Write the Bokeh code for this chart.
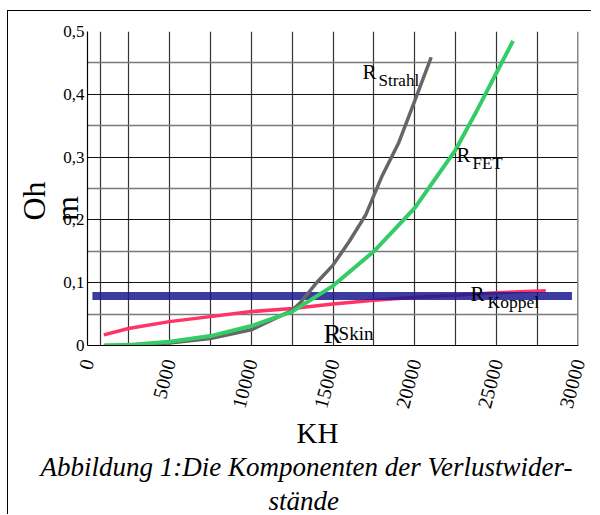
from bokeh.plotting import figure
from bokeh.models import Range1d, FixedTicker, CustomJSTickFormatter, Label, Span, Title, InlineStyleSheet
from bokeh.embed import file_html
from bokeh.resources import INLINE

# ---- data ----
freq_fet = [1000, 2500, 5000, 7500, 10000, 12500, 15000, 17500, 20000, 22500, 23750, 25000, 26000]
r_fet = [0.0, 0.001, 0.006, 0.015, 0.031, 0.054, 0.095, 0.150, 0.219, 0.312, 0.372, 0.435, 0.485]

freq_strahl = [1000, 2500, 5000, 7500, 10000, 12500, 13000, 14000, 15000, 16000, 17000, 18000, 19000, 20000, 21000]
r_strahl = [0.0, 0.0005, 0.004, 0.011, 0.025, 0.056, 0.068, 0.100, 0.128, 0.166, 0.208, 0.270, 0.322, 0.390, 0.459]

freq_skin = [1000, 2500, 5000, 7500, 10000, 12500, 15000, 17500, 20000, 22500, 25000, 28000]
r_skin = [0.017, 0.027, 0.038, 0.046, 0.054, 0.059, 0.066, 0.072, 0.077, 0.080, 0.084, 0.087]

freq_koppel = [300, 29600]
r_koppel = [0.079, 0.079]

x_ticks = [0, 5000, 10000, 15000, 20000, 25000, 30000]
x_grid = [800, 2500, 5000, 7500, 10000, 12500, 15000, 17500, 20000, 22500, 25000, 27500]
y_ticks = [0, 0.1, 0.2, 0.3, 0.4, 0.5]
y_minor = [0.05, 0.15, 0.25, 0.35, 0.45]

SERIF = "Liberation Serif"
NBSP = "\u00a0"

p = figure(width=584, height=504, output_backend="svg", toolbar_location=None,
           x_range=Range1d(0, 30000), y_range=Range1d(0, 0.5),
           min_border_left=79, min_border_right=14, min_border_top=20, min_border_bottom=168)
# thin frame lines (top and left) of the original figure box
p.stylesheets = [InlineStyleSheet(css=":host { margin-left: 7px; margin-top: 10px; "
                                      "border-top: 1px solid black; border-left: 1px solid black; } "
                                      ".bk-Toolbar, .bk-toolbar { display: none !important; }")]
p.outline_line_color = None
p.background_fill_color = "white"
p.border_fill_color = "white"

# axes
for ax in (p.xaxis[0], p.yaxis[0]):
    ax.major_tick_in = 0
    ax.major_tick_out = 0
    ax.minor_tick_in = 0
    ax.minor_tick_out = 0
    ax.axis_line_color = "black"
    ax.axis_line_width = 1.2
    ax.major_label_text_font = SERIF
    ax.major_label_text_color = "black"

p.xaxis.ticker = FixedTicker(ticks=x_ticks)
p.xaxis.major_label_orientation = 1.31
p.xaxis.major_label_text_font_size = "20px"
p.xaxis.major_label_standoff = 14

p.yaxis.ticker = FixedTicker(ticks=y_ticks)
p.yaxis.formatter = CustomJSTickFormatter(code='return tick == 0 ? "0" : tick.toFixed(1).replace(".", ",");')
p.yaxis.major_label_text_font_size = "17px"
p.yaxis.major_label_standoff = 3
# the broken "Ohm" title: "m" sits over the tick labels, "Oh" further out
p.yaxis.axis_label = "m" + NBSP * 5
p.yaxis.axis_label_text_font = SERIF
p.yaxis.axis_label_text_font_size = "32px"
p.yaxis.axis_label_text_font_style = "normal"
p.yaxis.axis_label_text_color = "black"
p.yaxis.axis_label_standoff = -25

p.add_layout(Title(text="Oh", align="left", offset=125, standoff=-10, text_font=SERIF,
                   text_font_size="32px", text_font_style="normal", text_color="black"), "left")

# grid
p.xgrid.ticker = FixedTicker(ticks=x_grid)
p.xgrid.grid_line_color = "#333333"
p.xgrid.grid_line_width = 1.2
p.ygrid.ticker = FixedTicker(ticks=y_ticks, minor_ticks=y_minor)
p.ygrid.grid_line_color = "#111111"
p.ygrid.grid_line_width = 1.2
p.ygrid.minor_grid_line_color = "#7a7a7a"
p.ygrid.minor_grid_line_width = 1.5
p.add_layout(Span(location=30000, dimension="height", line_color="#888888", line_width=3))

# curves
p.line(freq_skin, r_skin, line_color="#ff3366", line_width=3.5, line_join="round")
p.line(freq_koppel, r_koppel, line_color="#1a1a8f", line_width=8, line_alpha=0.85, line_cap="butt")
p.line(freq_strahl, r_strahl, line_color="#666666", line_width=3.5, line_join="round")
p.line(freq_fet, r_fet, line_color="#33cc66", line_width=4, line_join="round")

# curve labels (R + subscript)
curve_labels = [
    ("R", 16800, 0.435, "21px"), ("Strahl", 17780, 0.4225, "17px"),
    ("R", 22550, 0.304, "21px"), ("FET", 23520, 0.2896, "17px"),
    ("R", 23400, 0.0823, "21px"), ("Koppel", 24440, 0.0696, "17.5px"),
    ("R", 14420, 0.019, "27px"), ("Skin", 15340, 0.019, "19px"),
]
for txt, x, y, fs in curve_labels:
    p.add_layout(Label(x=x, y=y, text=txt, text_font=SERIF, text_font_size=fs,
                       text_align="left", text_baseline="alphabetic", text_color="black"))

# x title and caption below the axis
below = [
    ("KH", 209, 0, "29px", "normal"),
    ("Abbildung 1:Die Komponenten der Verlustwider-", -47, 3, "27px", "italic"),
    ("stände", 181, 0, "27px", "italic"),
]
for txt, off, so, fs, st in below:
    p.add_layout(Title(text=txt, align="left", offset=off, standoff=so, text_font=SERIF,
                       text_font_size=fs, text_font_style=st, text_color="black"), "below")

open("out.html", "w").write(file_html(p, INLINE))
